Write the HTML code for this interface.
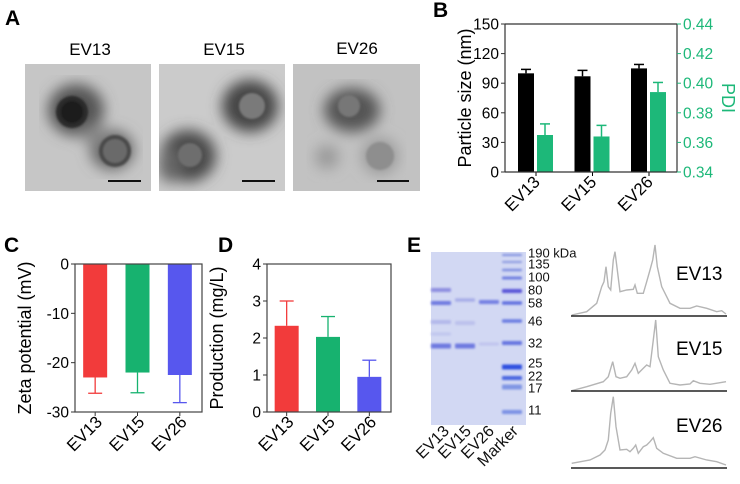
<!DOCTYPE html>
<html><head><meta charset="utf-8"><style>
html,body{margin:0;padding:0;background:#fff;}
svg{display:block;font-family:"Liberation Sans",Arial,sans-serif;}
</style></head><body>
<svg id="fig" width="740" height="484" viewBox="0 0 740 484" xmlns="http://www.w3.org/2000/svg">
<defs>
<filter id="blur6"><feGaussianBlur stdDeviation="7"/></filter>
<filter id="blur1"><feGaussianBlur stdDeviation="1"/></filter>
<clipPath id="clipA1"><rect x="25" y="64" width="126" height="127"/></clipPath>
<clipPath id="clipA2"><rect x="159" y="64" width="126" height="127"/></clipPath>
<clipPath id="clipA3"><rect x="293" y="64" width="127" height="127"/></clipPath>
</defs>
<g font-weight="bold" font-size="21" fill="#000">
<text x="5" y="25">A</text>
<text x="433" y="17">B</text>
<text x="4" y="252">C</text>
<text x="218" y="252">D</text>
<text x="407" y="252">E</text>
</g>
<!-- Panel A -->
<g font-size="17">
<text x="90" y="55" text-anchor="middle">EV13</text>
<text x="224" y="55" text-anchor="middle">EV15</text>
<text x="357" y="54" text-anchor="middle">EV26</text>
<g clip-path="url(#clipA1)">
<rect x="25" y="64" width="126" height="127" fill="#c6c6c6"/>
<g filter="url(#blur6)"><ellipse cx="76" cy="110" rx="28" ry="26" fill="#555"/><ellipse cx="112" cy="150" rx="22" ry="20" fill="#666"/><ellipse cx="95" cy="135" rx="14" ry="10" fill="#888"/></g>
<g filter="url(#blur1)"><circle cx="72" cy="112" r="16" fill="#2a2a2a"/><circle cx="72" cy="112" r="11" fill="#1c1c1c"/>
<circle cx="115" cy="151" r="16" fill="#4a4a4a"/><circle cx="115" cy="151" r="12" fill="#6a6a6a"/></g>
<rect x="108" y="180" width="33" height="2" fill="#111"/>
</g>
<g clip-path="url(#clipA2)">
<rect x="159" y="64" width="126" height="127" fill="#cbcbcb"/>
<g filter="url(#blur6)"><ellipse cx="250" cy="106" rx="28" ry="26" fill="#444"/><ellipse cx="188" cy="156" rx="28" ry="26" fill="#4a4a4a"/><ellipse cx="170" cy="165" rx="12" ry="18" fill="#666"/></g>
<g filter="url(#blur1)"><circle cx="252" cy="106" r="13" fill="#7a7a7a"/><circle cx="190" cy="155" r="12" fill="#6e6e6e"/></g>
<rect x="242" y="180" width="33" height="2" fill="#111"/>
</g>
<g clip-path="url(#clipA3)">
<rect x="293" y="64" width="127" height="127" fill="#c2c2c2"/>
<g filter="url(#blur6)"><ellipse cx="352" cy="110" rx="28" ry="22" fill="#555"/><circle cx="380" cy="156" r="18" fill="#999"/><circle cx="327" cy="157" r="12" fill="#9a9a9a"/></g>
<g filter="url(#blur1)"><circle cx="349" cy="106" r="11" fill="#777"/><circle cx="380" cy="156" r="14" fill="#8e8e8e"/></g>
<rect x="377" y="180" width="32" height="2" fill="#111"/>
</g>
</g>
<g id="panelB"></g>
<g id="panelC"></g>
<g id="panelD"></g>
<!-- Panel E gel -->
<g>
<rect x="431" y="252" width="95" height="173" fill="#d2d8f3"/>
<g id="gelBands" filter="url(#blur1)"></g>
<g font-size="13" fill="#111" id="markerLabels"></g>
<g font-size="16" fill="#111">
<text transform="translate(450,432) rotate(-45)" text-anchor="end">EV13</text>
<text transform="translate(472,432) rotate(-45)" text-anchor="end">EV15</text>
<text transform="translate(495,432) rotate(-45)" text-anchor="end">EV26</text>
<text transform="translate(519,432) rotate(-45)" text-anchor="end">Marker</text>
</g>
</g>
<g id="traces" font-size="19"></g>
<script>
const NS="http://www.w3.org/2000/svg";
function mk(p,t,a,txt){const e=document.createElementNS(NS,t);for(const k in a)e.setAttribute(k,a[k]);if(txt!==undefined)e.textContent=txt;p.appendChild(e);return e;}
const cats=["EV13","EV15","EV26"];
// Panel B data
const sizeVals=[100,97,105];
const sizeErr=[4,6,4];
const pdiVals=[0.365,0.364,0.394];
const pdiErr=[0.0075,0.0075,0.0065];
const sizeTicks=[0,30,60,90,120,150];
const pdiTicks=[0.34,0.36,0.38,0.40,0.42,0.44];
// Panel C data
const zetaVals=[-23,-22,-22.5];
const zetaErr=[3.2,4.1,5.6];
const zetaTicks=[0,-10,-20,-30];
// Panel D data
const prodVals=[2.33,2.03,0.95];
const prodErr=[0.67,0.55,0.45];
const prodTicks=[0,1,2,3,4];
const colors=["#f23b3b","#17b26f","#5757ee"];
const green="#1db879";
(function(){
 const g=document.getElementById("panelB");
 const L=505,R=677,T=24,B=172;
 const y1=v=>B-(v/150)*(B-T);
 const y2=v=>B-((v-0.34)/0.10)*(B-T);
 const gx=i=>536+i*56.5;
 for(let i=0;i<3;i++){
  const cx=gx(i)-10;
  let r=mk(g,"rect",{x:cx-8,y:y1(sizeVals[i]),width:16,height:B-y1(sizeVals[i]),fill:"#000"});
  
  mk(g,"line",{x1:cx,x2:cx,y1:y1(sizeVals[i]),y2:y1(sizeVals[i]+sizeErr[i]),stroke:"#000","stroke-width":1.5});
  mk(g,"line",{x1:cx-5,x2:cx+5,y1:y1(sizeVals[i]+sizeErr[i]),y2:y1(sizeVals[i]+sizeErr[i]),stroke:"#000","stroke-width":1.5});
  const px=gx(i)+9;
  r=mk(g,"rect",{x:px-8,y:y2(pdiVals[i]),width:16,height:B-y2(pdiVals[i]),fill:green});
  
  mk(g,"line",{x1:px,x2:px,y1:y2(pdiVals[i]),y2:y2(pdiVals[i]+pdiErr[i]),stroke:green,"stroke-width":1.5});
  mk(g,"line",{x1:px-5,x2:px+5,y1:y2(pdiVals[i]+pdiErr[i]),y2:y2(pdiVals[i]+pdiErr[i]),stroke:green,"stroke-width":1.5});
  mk(g,"line",{x1:gx(i),x2:gx(i),y1:B,y2:B+4,stroke:"#000","stroke-width":1});
  const t=mk(g,"text",{transform:`translate(${gx(i)+5},183) rotate(-45)`,"text-anchor":"end","font-size":17},cats[i]);
  
 }
 mk(g,"line",{x1:L,x2:R,y1:T,y2:T,stroke:"#333","stroke-width":1.2});
 mk(g,"line",{x1:L,x2:R,y1:B,y2:B,stroke:"#333","stroke-width":1.2});
 mk(g,"line",{x1:L,x2:L,y1:T,y2:B,stroke:"#333","stroke-width":1.2});
 mk(g,"line",{x1:R,x2:R,y1:T,y2:B,stroke:"#333","stroke-width":1.2});
 sizeTicks.forEach(v=>{mk(g,"line",{x1:L-4,x2:L,y1:y1(v),y2:y1(v),stroke:"#333"});
  const t=mk(g,"text",{x:L-6,y:y1(v)+5.5,"text-anchor":"end","font-size":15.5},String(v));});
 pdiTicks.forEach(v=>{mk(g,"line",{x1:R,x2:R+4,y1:y2(v),y2:y2(v),stroke:green});
  const t=mk(g,"text",{x:R+6,y:y2(v)+5.5,"font-size":15.5,fill:green},v.toFixed(2));});
 let t=mk(g,"text",{transform:"translate(471,98) rotate(-90)","text-anchor":"middle","font-size":18},"Particle size (nm)");
 
 t=mk(g,"text",{transform:"translate(722,98) rotate(90)","text-anchor":"middle","font-size":18,fill:green},"PDI");
 
})();
function simple(id,L,R,T,B,min,max,vals,err,ticks,title,pre){
 const g=document.getElementById(id);
 const y=v=>T+(max-v)/(max-min)*(B-T);
 const base=min<0?T:B;
 const step=(R-L)/3;
 for(let i=0;i<3;i++){
  const cx=L+step*(i+0.5)-1;
  const yv=y(vals[i]);
  const r=mk(g,"rect",{x:cx-12,y:Math.min(base,yv),width:24,height:Math.abs(yv-base),fill:colors[i]});
  
  const ev=vals[i]+(min<0?-err[i]:err[i]);
  mk(g,"line",{x1:cx,x2:cx,y1:yv,y2:y(ev),stroke:colors[i],"stroke-width":1.3});
  mk(g,"line",{x1:cx-7,x2:cx+7,y1:y(ev),y2:y(ev),stroke:colors[i],"stroke-width":1.3});
  mk(g,"line",{x1:cx,x2:cx,y1:B,y2:B+4,stroke:"#333"});
  const t=mk(g,"text",{transform:`translate(${cx+8},423) rotate(-45)`,"text-anchor":"end","font-size":17},cats[i]);
  
 }
 mk(g,"rect",{x:L,y:T,width:R-L,height:B-T,fill:"none",stroke:"#444","stroke-width":1.2});
 ticks.forEach(v=>{mk(g,"line",{x1:L-4,x2:L,y1:y(v),y2:y(v),stroke:"#333"});
  const t=mk(g,"text",{x:L-6,y:y(v)+5.5,"text-anchor":"end","font-size":15.5},String(v));});
 const t=mk(g,"text",{transform:`translate(${L-44},${(T+B)/2}) rotate(-90)`,"text-anchor":"middle","font-size":18},title);
 
}
simple("panelC",75,202,264,412,-30,0,zetaVals,zetaErr,zetaTicks,"Zeta potential (mV)","c");
simple("panelD",267,391,264,412,0,4,prodVals,prodErr,prodTicks,"Production (mg/L)","d");
// gel
const markerKda=["190 kDa","135","100","80","58","46","32","25","22","17","11"];
const markerY=[253,264,277,290,303,321,343,363,376,388,410];
(function(){
 const g=document.getElementById("gelBands");
 const bands=[[512,255,2,"#7f8fe0"],[512,262,2,"#8a98e0"],[512,270,2.5,"#8090e0"],[512,278,3,"#6f7fe0"],[512,291,4,"#5a55d8"],[512,303,3.5,"#6070e0"],[512,321,3.5,"#6a7be2"],[512,343,4,"#6575e0"],[512,367,5,"#2f4fe0"],[512,378,4,"#4a65e0"],[512,387,5,"#8095e4"],[512,412,4,"#7a90e4"],
 [441,290,4,"#8e8ee0"],[441,303,4,"#6f7ae0"],[441,346,5,"#6f7ae0"],[441,322,4,"#b2b8ea"],[441,334,3,"#c0c6ee"],
 [465,300,3.5,"#a8aee8"],[465,346,5,"#6f7ae0"],[465,323,4,"#bcc1ec"],
 [489,302,4,"#7580e2"],[489,344,3,"#bfc4ee"]];
 bands.forEach(b=>{const r=mk(g,"rect",{x:b[0]-10,y:b[1]-b[2]/2,width:20,height:b[2],fill:b[3],rx:1});});
 const ml=document.getElementById("markerLabels");
 markerKda.forEach((s,i)=>{const t=mk(ml,"text",{x:528,y:markerY[i]+4.5},s);});
})();
// densitometry (zoom-space points)
const trace13=[[515,225],[560,215],[590,190],[605,140],[612,125],[618,80],[625,140],[632,150],[640,60],[645,35],[652,90],[660,155],[680,150],[700,148],[705,135],[712,160],[730,160],[740,125],[750,90],[758,60],[765,15],[772,80],[785,140],[810,190],[840,205],[870,205],[890,198],[920,205],[950,215],[965,212],[978,222]];
const trace15=[[515,452],[560,440],[610,425],[625,410],[638,365],[648,410],[660,415],[680,410],[695,390],[705,370],[715,400],[730,385],[740,375],[750,380],[760,300],[767,240],[775,350],[790,390],[810,430],[840,435],[870,432],[880,422],[900,430],[930,433],[960,428],[978,425]];
const trace26=[[515,670],[570,660],[600,645],[615,630],[625,600],[632,520],[640,470],[648,560],[660,630],[680,628],[690,635],[700,625],[707,615],[715,640],[730,620],[740,615],[750,605],[760,593],[770,625],[790,640],[830,655],[870,655],[885,650],[920,660],[950,665],[978,675]];
(function(){
 const g=document.getElementById("traces");
 const sets=[[trace13,316,"EV13",280],[trace15,391,"EV15",355],[trace26,468,"EV26",432]];
 sets.forEach(s=>{
  const p=mk(g,"polyline",{points:s[0].map(q=>(400+q[0]/3).toFixed(1)+","+(240+q[1]/3).toFixed(1)).join(" "),fill:"none",stroke:"#b5b5b5","stroke-width":1.4});
  
  const l=mk(g,"line",{x1:571,x2:727,y1:s[1],y2:s[1],stroke:"#222","stroke-width":1.4});
  
  const t=mk(g,"text",{x:676,y:s[3]},s[2]);
  
 });
})();
</script>
</svg>
</body></html>
